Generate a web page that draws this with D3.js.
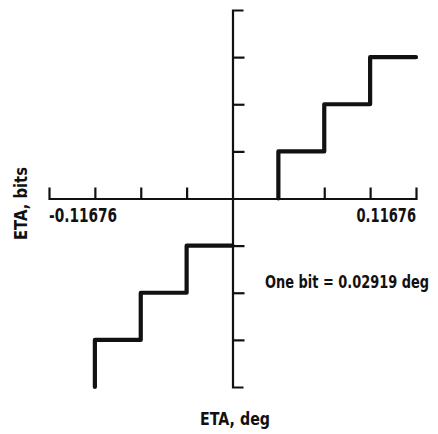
<!DOCTYPE html>
<html>
<head>
<meta charset="utf-8">
<script src="https://cdn.jsdelivr.net/npm/d3@7"></script>
<style>
  html, body { margin: 0; padding: 0; background: #fff; }
  svg text { font-family: "DejaVu Sans", "Liberation Sans Narrow", sans-serif; font-stretch: condensed; font-weight: bold; fill: #111; }
</style>
</head>
<body>
<svg id="chart" width="438" height="434"></svg>
<script>
/************** Data **************/
// quantizer output: ETA in deg -> ETA in bits (one bit = 0.02919 deg)
const upperDeg  = [0.02919, 0.02919, 0.05838, 0.05838, 0.08757, 0.08757, 0.11676];
const upperBits = [0, 1, 1, 2, 2, 3, 3];
const lowerDeg  = [0, -0.02919, -0.02919, -0.05838, -0.05838, -0.08757, -0.08757];
const lowerBits = [-1, -1, -2, -2, -3, -3, -4];

const xTicks = [-0.08757, -0.05838, -0.02919, 0.02919, 0.05838, 0.08757];
const yTicks = [-3, -2, -1, 1, 2, 3];
const xLabels = [{ v: -0.11676, t: "-0.11676", anchor: "start" },
                 { v: 0.11676, t: "0.11676", anchor: "end" }];

/************** Scales **************/
const svg = d3.select("#chart");
const x = d3.scaleLinear().domain([-0.11676, 0.11676]).range([49, 416]);
const y = d3.scaleLinear().domain([-4, 4]).range([387, 10]);

/************** Axes (cross at origin) **************/
const gx = svg.append("g")
  .attr("transform", `translate(0,${y(0)})`)
  .call(d3.axisTop(x).tickValues(xTicks).tickSizeInner(11).tickSizeOuter(11).tickFormat(""));

const gy = svg.append("g")
  .attr("transform", `translate(${x(0)},0)`)
  .call(d3.axisRight(y).tickValues(yTicks).tickSizeInner(12).tickSizeOuter(11).tickFormat(""));

[gx, gy].forEach(g => {
  g.select(".domain").attr("stroke", "#111").attr("stroke-width", 2.2);
  g.selectAll(".tick line").attr("stroke", "#111").attr("stroke-width", 2.2);
});

// text widths are squeezed to the narrow lettering of the original
svg.selectAll("text.xlab")
  .data(xLabels)
  .join("text")
    .attr("class", "xlab")
    .attr("x", d => x(d.v))
    .attr("y", y(0) + 23)
    .attr("text-anchor", d => d.anchor)
    .attr("textLength", d => d.t.length * 8.5)
    .attr("lengthAdjust", "spacingAndGlyphs")
    .style("font-size", "20px")
    .text(d => d.t);

/************** Step lines **************/
const line = d3.line().x(d => x(d[0])).y(d => y(d[1]));
[d3.zip(upperDeg, upperBits), d3.zip(lowerDeg, lowerBits)].forEach(pts => {
  svg.append("path")
    .attr("d", line(pts))
    .attr("fill", "none")
    .attr("stroke", "#111")
    .attr("stroke-width", 4.2)
    .attr("stroke-linejoin", "round")
    .attr("stroke-linecap", "round");
});

/************** Titles **************/
svg.append("text")
  .attr("x", 265).attr("y", 288)
  .attr("textLength", 164).attr("lengthAdjust", "spacingAndGlyphs")
  .style("font-size", "18px")
  .text("One bit = 0.02919 deg");

svg.append("text")
  .attr("x", 200).attr("y", 425)
  .attr("textLength", 70).attr("lengthAdjust", "spacingAndGlyphs")
  .style("font-size", "18px")
  .text("ETA, deg");

svg.append("text")
  .attr("transform", "translate(27,240) rotate(-90)")
  .attr("textLength", 73).attr("lengthAdjust", "spacingAndGlyphs")
  .style("font-size", "18px")
  .text("ETA, bits");
</script>
</body>
</html>
